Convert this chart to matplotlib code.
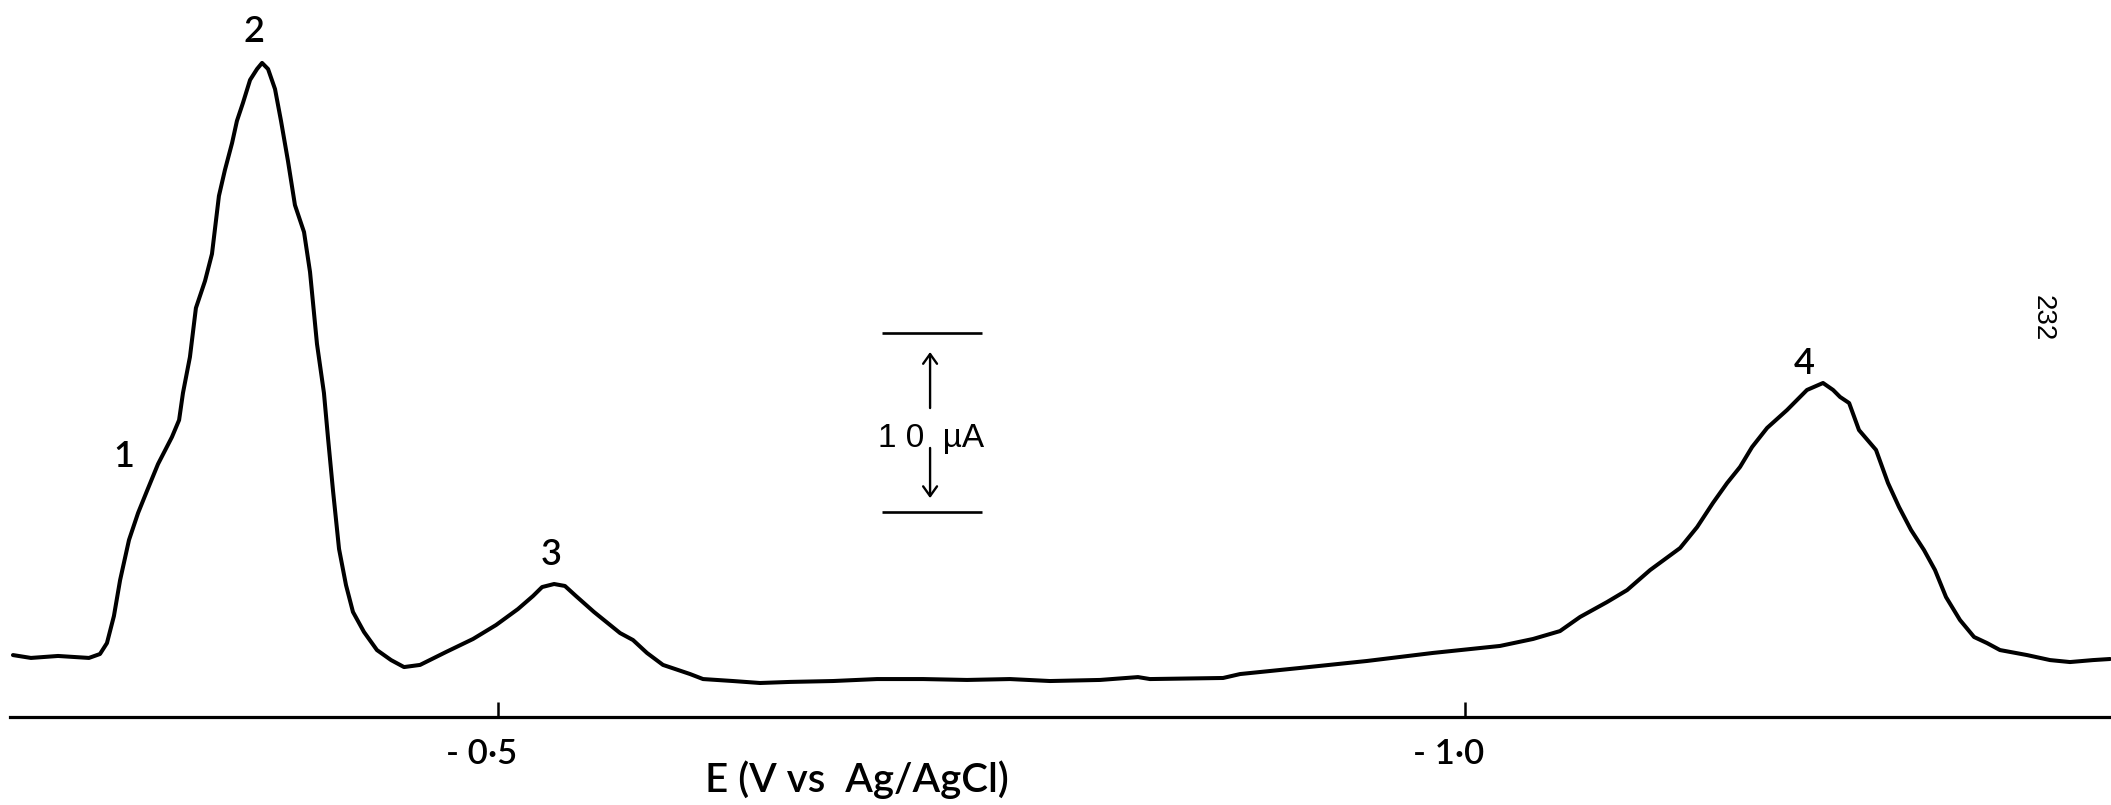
import matplotlib
matplotlib.use("Agg")
import matplotlib.pyplot as plt
from matplotlib.transforms import ScaledTranslation

# ---- data (E in V vs Ag/AgCl, current in microamps above the axis line)
potential_V = [
    -0.2492, -0.2585, -0.2725, -0.2885, -0.2942, -0.2978, -0.3014, -0.3046, -0.3092, -0.3139,
    -0.3185, -0.3242, -0.3314, -0.3351, -0.3371, -0.3407, -0.3438, -0.3485, -0.3521, -0.3557,
    -0.3588, -0.3625, -0.3650, -0.3681, -0.3718, -0.3754, -0.3780, -0.3811, -0.3847, -0.3878,
    -0.3914, -0.3950, -0.3997, -0.4028, -0.4064, -0.4100, -0.4121, -0.4147, -0.4178, -0.4214,
    -0.4250, -0.4307, -0.4374, -0.4447, -0.4514, -0.4597, -0.4731, -0.4871, -0.4990, -0.5103,
    -0.5181, -0.5228, -0.5290, -0.5346, -0.5403, -0.5496, -0.5631, -0.5698, -0.5770, -0.5853,
    -0.5993, -0.6060, -0.6215, -0.6355, -0.6510, -0.6732, -0.6960, -0.7198, -0.7425, -0.7647,
    -0.7854, -0.8113, -0.8309, -0.8371, -0.8749, -0.8837, -0.9147, -0.9493, -0.9835, -1.0181,
    -1.0352, -1.0491, -1.0595, -1.0734, -1.0838, -1.0957, -1.1112, -1.1200, -1.1282, -1.1355,
    -1.1422, -1.1484, -1.1562, -1.1665, -1.1768, -1.1851, -1.1903, -1.1939, -1.1986, -1.2037,
    -1.2125, -1.2187, -1.2244, -1.2306, -1.2373, -1.2430, -1.2487, -1.2559, -1.2632, -1.2699,
    -1.2766, -1.2906, -1.3025, -1.3128, -1.3247, -1.3335,
]
current_uA = [
    3.46, 3.30, 3.41, 3.30, 3.52, 4.13, 5.64, 7.65, 9.89, 11.40,
    12.63, 14.13, 15.64, 16.59, 18.10, 20.11, 22.85, 24.36, 25.87, 29.11,
    30.56, 32.07, 33.30, 34.30, 35.59, 36.20, 36.54, 36.20, 35.08, 33.30,
    31.06, 28.60, 27.09, 24.86, 20.84, 18.10, 15.59, 12.63, 9.39, 7.37,
    5.87, 4.75, 3.74, 3.18, 2.79, 2.91, 3.63, 4.36, 5.14, 6.03,
    6.76, 7.26, 7.43, 7.32, 6.76, 5.87, 4.69, 4.30, 3.58, 2.91,
    2.40, 2.12, 2.01, 1.90, 1.96, 2.01, 2.12, 2.12, 2.07, 2.12,
    2.01, 2.07, 2.23, 2.12, 2.18, 2.40, 2.74, 3.13, 3.58, 3.97,
    4.36, 4.80, 5.59, 6.42, 7.09, 8.21, 9.44, 10.61, 11.96, 13.07,
    13.97, 15.08, 16.15, 17.15, 18.27, 18.66, 18.27, 17.88, 17.54, 16.03,
    14.92, 13.07, 11.73, 10.45, 9.33, 8.21, 6.70, 5.42, 4.47, 4.13,
    3.74, 3.46, 3.18, 3.07, 3.18, 3.24,
]

tick_values = [-0.5, -1.0]
tick_labels = ["- 0\u00b75", "- 1\u00b70"]
x_title = "E (V vs  Ag/AgCl)"

peak_labels = ["1", "2", "3", "4"]
peak_label_E = [-0.3066, -0.3738, -0.5274, -1.1753]
peak_label_i = [13.97, 37.71, 8.49, 19.16]

scale_bar_uA = 10
scale_bar_low = 11.45
scale_text = "1 0  \u00b5A"
page_number = "232"

NARROW = ["Liberation Sans Narrow", "Lato", "DejaVu Sans"]
SANS = ["Liberation Sans", "DejaVu Sans"]

fig = plt.figure(figsize=(21.11, 8.05), dpi=100)
ax = fig.add_axes([0, 0, 1, 1])
ax.set_xlim(-0.2425, -1.3340)
ax.set_ylim(-4.916, 40.056)

# curve
ax.plot(potential_V, current_uA, color="black", lw=2.9, solid_joinstyle="round",
        solid_capstyle="round")

# axis: only the bottom spine, drawn at zero current
for s in ["top", "left", "right"]:
    ax.spines[s].set_visible(False)
ax.spines["bottom"].set_position(("data", 0))
ax.spines["bottom"].set_bounds(-0.2477, -1.3340)
ax.spines["bottom"].set_linewidth(2.3)
ax.set_yticks([])
ax.set_xticks(tick_values)
ax.set_xticklabels(tick_labels, family=NARROW, fontsize=25, fontweight="semibold")
ax.tick_params(axis="x", direction="in", length=11, width=1.8, pad=15)
shift = ScaledTranslation(-0.16, 0, fig.dpi_scale_trans)
for lab in ax.get_xticklabels():
    lab.set_transform(lab.get_transform() + shift)
ax.set_xlabel(x_title, family=NARROW, fontsize=29, fontweight="semibold")
ax.xaxis.label.set_va("baseline")
ax.xaxis.set_label_coords(0.406, 0.016)

# peak numbers
for t, e, c in zip(peak_labels, peak_label_E, peak_label_i):
    ax.text(e, c, t, family=NARROW, fontsize=26, fontweight="semibold",
            ha="center", va="baseline")

# 10 uA scale bar
x_bar0, x_bar1, x_bar_mid = -0.6986, -0.7503, -0.7234
scale_bar_high = scale_bar_low + scale_bar_uA
ax.hlines([scale_bar_low, scale_bar_high], x_bar0, x_bar1, color="black", lw=1.9)
arrow_kw = dict(arrowstyle="->,head_length=0.35,head_width=0.25", color="black",
                lw=1.7, mutation_scale=20, shrinkA=0, shrinkB=0)
ax.annotate("", xy=(x_bar_mid, 20.39), xytext=(x_bar_mid, 17.26), arrowprops=arrow_kw)
ax.annotate("", xy=(x_bar_mid, 12.23), xytext=(x_bar_mid, 15.03), arrowprops=arrow_kw)
ax.text(-0.7239, 15.08, scale_text, family=SANS, fontsize=24, ha="center", va="baseline")

# page number, rotated
ax.text(-1.2989, 22.29, page_number, family=SANS, fontsize=20, rotation=-90,
        ha="center", va="center")

fig.savefig("out.png", dpi=100, facecolor="white")
